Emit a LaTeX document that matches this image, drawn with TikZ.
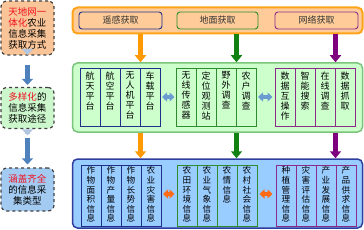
\documentclass[tikz,border=0pt]{standalone}
\usepackage{fontspec}
\newfontfamily\cjk{Noto Sans CJK SC}
\usetikzlibrary{arrows.meta}
\definecolor{lpeach}{HTML}{F9C598}
\definecolor{lgreen}{HTML}{CCF7CC}
\definecolor{lblue}{HTML}{A3CBF2}
\definecolor{tpeach}{HTML}{FFCC99}
\definecolor{torange}{HTML}{FFA31A}
\definecolor{mgreen}{HTML}{CCFFCC}
\definecolor{mgreenb}{HTML}{7CC47C}
\definecolor{bblue}{HTML}{99CCFF}
\definecolor{bblueb}{HTML}{2F3E9E}
\definecolor{gnavy}{HTML}{1F2F8A}
\definecolor{ggreen}{HTML}{2E8B2E}
\definecolor{gpurple}{HTML}{8B2C8B}
\definecolor{aorange}{HTML}{FF9900}
\definecolor{agreen}{HTML}{118211}
\definecolor{apurple}{HTML}{7F007F}
\definecolor{dblue}{HTML}{6C9BD2}
\definecolor{dorange}{HTML}{FF6A13}
\definecolor{lbarrow}{HTML}{4F81BD}
\definecolor{redtxt}{HTML}{F01020}
\newcommand\vcol[6]{%
  \node[colbox, draw=#5, minimum height=#4pt] (#1) at (#2+10,#3+#4/2) {};
  \node[coltext, anchor=north] (#1t) at ([yshift=-\coltop]#1.north) {#6};}
\newcommand\coltop{3pt}
\begin{document}
\begin{tikzpicture}[x=1pt,y=-1pt,
  every node/.style={font=\cjk\fontsize{9}{10}\selectfont},
  leftbox/.style={draw=black!75, dashed, line width=1.2pt, rounded corners=6pt, minimum width=53pt, inner sep=0pt, align=center, font=\cjk\fontsize{9.5}{11}\selectfont},
  outerbox/.style={rounded corners=5pt, minimum width=290pt, minimum height=#1, inner sep=0pt},
  subbox/.style={draw=#1, rounded corners=3pt, line width=0.9pt, minimum height=17pt, inner sep=0pt, text=black!80},
  colbox/.style={rectangle, minimum width=20pt, inner sep=0pt, line width=1pt},
  coltext/.style={align=center, inner sep=0pt, font=\cjk\fontsize{9}{10}\selectfont},
  downarr/.style={draw=#1, line width=5pt, -{Triangle[width=11pt,length=7pt]}},
  dblarr/.style={draw=#1, line width=4pt, {Triangle[width=9pt,length=5pt]}-{Triangle[width=9pt,length=5pt]}},
  bluearr/.style={draw=lbarrow, line width=5pt, -{Triangle[width=11pt,length=6pt]}}
]
\useasboundingbox (0,0) rectangle (364,230);

% left column
\node[leftbox, fill=lpeach, minimum height=54pt] (L1) at (27.5,28)
  {\textcolor{redtxt}{天地网一}\\\textcolor{redtxt}{体化}农业\\信息采集\\获取方式};
\node[leftbox, fill=lgreen, minimum height=41pt] (L2) at (27.5,108)
  {\textcolor{redtxt}{多样化}的\\信息采集\\获取途径};
\node[leftbox, fill=lblue, minimum height=43pt] (L3) at (27.5,189.5)
  {\textcolor{redtxt}{涵盖齐全}\\的信息采\\集类型};
\draw[bluearr, shorten <=9pt, shorten >=2pt] (L1) -- (L2);
\draw[bluearr, draw=lbarrow!45, line width=5pt, shorten <=4pt, shorten >=32pt] (L1.south) -- (L2.north);
\draw[bluearr, shorten <=9pt, shorten >=3pt] (L2) -- (L3);
\draw[bluearr, draw=lbarrow!45, line width=5pt, shorten <=5pt, shorten >=32pt] (L2.south) -- (L3.north);

% top box
\node[outerbox=26pt, fill=tpeach, draw=torange, line width=2pt] (T) at (217.5,20.5) {};
\node[subbox=gnavy, minimum width=83pt] (ra) at (120.5,20.5) {遥感获取};
\node[subbox=ggreen, minimum width=81pt] (ga) at (217.5,20.5) {地面获取};
\node[subbox=gpurple, minimum width=83pt] (na) at (316.5,20.5) {网络获取};

% middle box
\node[outerbox=69pt, fill=mgreen, draw=mgreenb, line width=1.5pt] (M) at (217.5,97.5) {};
\vcol{m1}{80}{69}{57}{gnavy}{航\\天\\平\\台}
\vcol{m2}{100}{69}{57}{gnavy}{航\\空\\平\\台}
\vcol{m3}{120}{69}{57}{gnavy}{无\\人\\机\\平\\台}
\vcol{m4}{140}{69}{57}{gnavy}{车\\载\\平\\台}
\vcol{m5}{176}{69}{57}{ggreen}{无\\线\\传\\感\\器}
\vcol{m6}{196}{69}{57}{ggreen}{定\\位\\观\\测\\站}
\vcol{m7}{216}{69}{57}{ggreen}{野\\外\\调\\查}
\vcol{m8}{236}{69}{57}{ggreen}{农\\户\\调\\查}
\vcol{m9}{275}{69}{57}{gpurple}{数\\据\\互\\操\\作}
\vcol{m10}{295}{69}{57}{gpurple}{智\\能\\搜\\索}
\vcol{m11}{315}{69}{57}{gpurple}{在\\线\\调\\查}
\vcol{m12}{335}{69}{57}{gpurple}{数\\据\\抓\\取}
\draw[dblarr=dblue, shorten <=1.5pt, shorten >=1pt] (m4.east |- 0,97) -- (m5.west |- 0,97);
\draw[dblarr=dblue, shorten <=1.5pt, shorten >=2pt] (m8.east |- 0,97) -- (m9.west |- 0,97);

% bottom box
\node[outerbox=69pt, fill=bblue, draw=bblueb, line width=1.5pt] (B) at (217.5,193.5) {};
\begin{scope}[coltext/.style={align=center, inner sep=0pt, font=\cjk\fontsize{8.6}{9.6}\selectfont}]
\renewcommand\coltop{2pt}
\vcol{b1}{81}{165}{61}{gnavy}{作\\物\\面\\积\\信\\息}
\vcol{b2}{101}{165}{61}{gnavy}{作\\物\\产\\量\\信\\息}
\vcol{b3}{121}{165}{61}{gnavy}{作\\物\\长\\势\\信\\息}
\vcol{b4}{141}{165}{61}{gnavy}{农\\业\\灾\\害\\信\\息}
\vcol{b5}{177}{165}{61}{ggreen}{农\\田\\环\\境\\信\\息}
\vcol{b6}{197}{165}{61}{ggreen}{农\\业\\气\\象\\信\\息}
\vcol{b7}{217}{165}{61}{ggreen}{农\\情\\信\\息}
\vcol{b8}{237}{165}{61}{ggreen}{农\\村\\社\\会\\信\\息}
\vcol{b9}{276}{165}{61}{gpurple}{种\\植\\管\\理\\信\\息}
\vcol{b10}{296}{165}{61}{gpurple}{灾\\害\\评\\估\\信\\息}
\vcol{b11}{316}{165}{61}{gpurple}{产\\业\\发\\展\\信\\息}
\vcol{b12}{336}{165}{61}{gpurple}{产\\品\\供\\求\\信\\息}
\end{scope}
\draw[dblarr=dorange, shorten <=1.5pt, shorten >=2pt] (b4.east |- 0,194) -- (b5.west |- 0,194);
\draw[dblarr=dorange, shorten <=2pt, shorten >=3pt] (b8.east |- 0,194) -- (b9.west |- 0,194);

% down arrows
\draw[downarr=aorange] (m3.east |- T.south) -- (m3.east |- M.north);
\draw[downarr=agreen] (m7.east |- T.south) -- (m7.east |- M.north);
\draw[downarr=apurple] (m11.east |- T.south) -- (m11.east |- M.north);
\draw[downarr=aorange] (m3.east |- M.south) -- (m3.east |- B.north);
\draw[downarr=agreen] (m7.east |- M.south) -- (m7.east |- B.north);
\draw[downarr=apurple] (m11.east |- M.south) -- (m11.east |- B.north);
\end{tikzpicture}
\end{document}
